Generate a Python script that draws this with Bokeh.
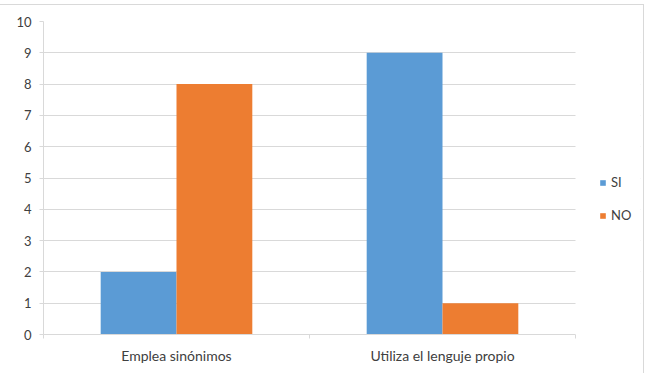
from bokeh.plotting import figure
from bokeh.models import Range1d, FixedTicker, Legend, LegendItem, ColumnDataSource, BoxAnnotation
from bokeh.embed import file_html
from bokeh.resources import INLINE

categories = ["Emplea sinónimos", "Utiliza el lenguje propio"]
si_values = [2, 9]
no_values = [8, 1]
series_names = ["SI", "NO"]
colors = ["#5B9BD5", "#ED7D31"]
y_ticks = list(range(0, 11))

FONT = "Lato"
TEXT_COLOR = "#404040"
GRID_COLOR = "#D9D9D9"

n = len(categories)
bar_w = 0.285
centers = [i + 0.5 for i in range(n)]

# plot area spans 532 px for the categories; frame is extended to the right for the legend
x_end = n * (640 - 43) / 532

p = figure(width=644, height=369, output_backend="svg", toolbar_location=None,
           x_range=Range1d(0, x_end), y_range=Range1d(0, 10),
           min_border_left=43, min_border_right=4, min_border_top=16, min_border_bottom=40)
p.styles = {"margin-top": "4px", "border-top": "1px solid #D9D9D9", "border-right": "1px solid #D9D9D9"}
p.outline_line_color = None
p.background_fill_color = "white"

src_si = ColumnDataSource(dict(x=[c - bar_w / 2 for c in centers], top=si_values))
src_no = ColumnDataSource(dict(x=[c + bar_w / 2 for c in centers], top=no_values))
r_si = p.vbar(x="x", top="top", width=bar_w, bottom=0, source=src_si, fill_color=colors[0], line_color=None)
r_no = p.vbar(x="x", top="top", width=bar_w, bottom=0, source=src_no, fill_color=colors[1], line_color=None)

# y axis
yax = p.yaxis[0]
yax.ticker = FixedTicker(ticks=y_ticks)
yax.axis_line_color = GRID_COLOR
yax.major_tick_line_color = GRID_COLOR
yax.major_tick_in = 0
yax.major_tick_out = 4
yax.minor_tick_line_color = None
yax.major_label_text_font = FONT
yax.major_label_text_font_size = "13px"
yax.major_label_text_color = TEXT_COLOR
yax.major_label_standoff = 8

# x axis
xax = p.xaxis[0]
xax.bounds = (0, n)
xax.ticker = FixedTicker(ticks=centers, minor_ticks=list(range(n + 1)))
xax.major_label_overrides = {c: lab for c, lab in zip(centers, categories)}
xax.axis_line_color = GRID_COLOR
xax.major_tick_line_color = None
xax.minor_tick_line_color = GRID_COLOR
xax.minor_tick_in = 0
xax.minor_tick_out = 4
xax.major_label_text_font = FONT
xax.major_label_text_font_size = "14px"
xax.major_label_text_color = TEXT_COLOR
xax.major_label_standoff = 6

p.xgrid.grid_line_color = None
p.ygrid.grid_line_color = GRID_COLOR
p.ygrid.ticker = FixedTicker(ticks=y_ticks)

# blank out the gridlines beyond the category area (legend region)
p.add_layout(BoxAnnotation(left=n, fill_color="white", fill_alpha=1, line_color=None))

legend = Legend(items=[LegendItem(label=series_names[0], renderers=[r_si]),
                       LegendItem(label=series_names[1], renderers=[r_no])],
                location=(556, 109), orientation="vertical",
                glyph_width=7, glyph_height=7, label_standoff=5, spacing=13,
                padding=0, margin=0, border_line_color=None, background_fill_alpha=0,
                label_text_font=FONT, label_text_font_size="13px", label_text_color=TEXT_COLOR,
                label_height=20)
p.add_layout(legend, "center")

open("out.html", "w").write(file_html(p, INLINE))
